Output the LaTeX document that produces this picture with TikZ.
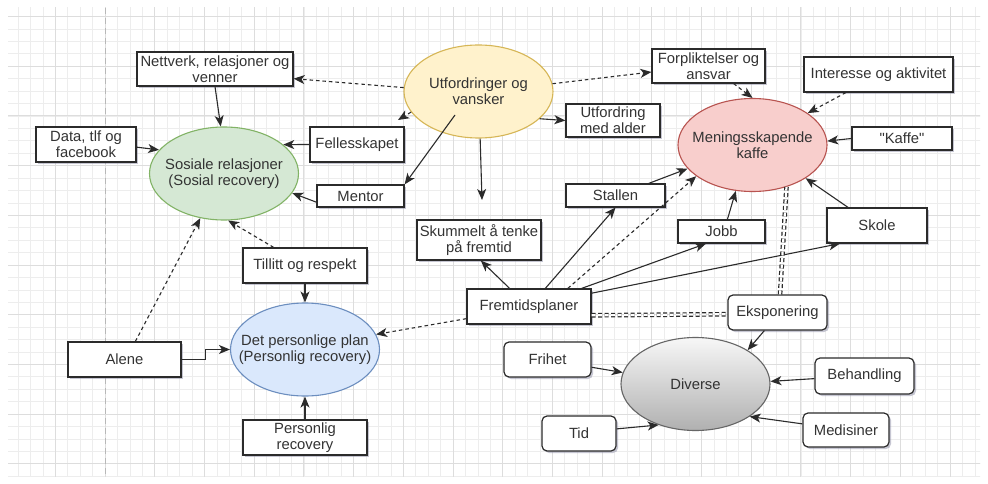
\documentclass[tikz,border=0pt]{standalone}
\usepackage{fontspec}
\setmainfont{Liberation Sans}[Ligatures=TeXOff]
\usetikzlibrary{arrows.meta, shapes.geometric, shadows}
\definecolor{inkgray}{HTML}{333333}
\definecolor{boxline}{HTML}{2B2B2B}
\definecolor{shadowgray}{HTML}{8E8EA6}
\definecolor{gridlt}{HTML}{EDEDED}
\definecolor{gridmj}{HTML}{DDDDDD}
\definecolor{pagedash}{HTML}{B8B8B8}
\definecolor{socfill}{HTML}{D5E8D4}
\definecolor{socline}{HTML}{82B366}
\definecolor{utffill}{HTML}{FFF2CC}
\definecolor{utfline}{HTML}{D6B656}
\definecolor{meanfill}{HTML}{F8CECC}
\definecolor{meanline}{HTML}{B85450}
\definecolor{persfill}{HTML}{DAE8FC}
\definecolor{persline}{HTML}{6C8EBF}
\definecolor{divtop}{HTML}{F7F7F7}
\definecolor{divbot}{HTML}{B0B0B0}
\definecolor{divline}{HTML}{666666}

\begin{document}
\begin{tikzpicture}[x=1pt, y=-1pt,
  >={Stealth[length=11pt, width=9pt, inset=3pt]},
  every node/.style={font=\fontsize{14.8}{16.3}\selectfont, text=inkgray, align=center},
  box/.style={draw=boxline, fill=white, line width=1.2pt, inner sep=0pt,
    drop shadow={shadow xshift=2pt, shadow yshift=-2pt, fill=shadowgray, opacity=0.5}},
  rbox/.style={box, rounded corners=5pt},
  oval/.style={ellipse, line width=1.1pt, inner xsep=-25pt, inner ysep=0pt,
    minimum width=149pt, minimum height=93pt},
  conn/.style={->, draw=boxline, line width=1.1pt},
  dconn/.style={conn, dash pattern=on 3.5pt off 3pt},
  pair/.style={draw=boxline, line width=1.2pt, double=white, double distance=2.2pt,
    dash pattern=on 4pt off 2.5pt}]

% Background and grid
\fill[white] (0,0) rectangle (988,484);
\begin{scope}
  \clip (8,8) rectangle (980,476);
  \draw[gridlt, line width=0.5pt, shift={(5.6pt,-16.4pt)}, step=12.425pt] (-20pt,-520pt) grid (1000pt,20pt);
  \draw[gridmj, line width=0.7pt, shift={(5.6pt,-16.4pt)}, step=49.7pt] (-20pt,-520pt) grid (1000pt,20pt);
\end{scope}
\draw[pagedash, line width=0.8pt, dash pattern=on 6pt off 4pt] (105,8) -- (105,476);

% =========== Sosiale relasjoner ===========
\node[oval, fill=socfill, draw=socline] (soc) at (224,173.5) {Sosiale relasjoner\\(Sosial recovery)};
\node[box, minimum width=156pt, minimum height=34pt] (net) at (215,69) {Nettverk, relasjoner og\\venner};
\node[box, minimum width=100pt, minimum height=35pt] (data) at (86,144.5) {Data, tlf og\\facebook};
\node[box, minimum width=94pt, minimum height=35pt] (fell) at (357,144.5) {Fellesskapet};
\node[box, minimum width=87pt, minimum height=22pt] (mentor) at (360.5,196) {Mentor};
\node[box, minimum width=124pt, minimum height=35pt] (till) at (305,265.5) {Tillitt og respekt};
\node[box, minimum width=113pt, minimum height=35pt] (alene) at (124.5,359.5) {Alene};

% =========== Det personlige plan ===========
\node[oval, fill=persfill, draw=persline] (pers) at (305,349.5) {Det personlige plan\\(Personlig recovery)};
\node[box, minimum width=124pt, minimum height=35pt] (prec) at (305,437.5) {Personlig\\recovery};

% =========== Utfordringer ===========
\node[oval, fill=utffill, draw=utfline] (utf) at (478.5,91.5) {Utfordringer og\\vansker};
\node[box, minimum width=94pt, minimum height=33pt] (alder) at (613,120.5) {Utfordring\\med alder};
\node[box, minimum width=124pt, minimum height=40pt] (skum) at (479,240) {Skummelt å tenke\\på fremtid};
\node[box, minimum width=124pt, minimum height=35pt] (frem) at (529,306.5) {Fremtidsplaner};
\coordinate (utfIn) at (455,115);
\coordinate (skumTip) at (482,200);
\coordinate (fellTip) at (398,120);

% =========== Meningsskapende kaffe ===========
\node[oval, fill=meanfill, draw=meanline] (mean) at (752.5,145) {Meningsskapende\\kaffe};
\node[box, minimum width=113pt, minimum height=34pt] (forp) at (708.5,66) {Forpliktelser og\\ansvar};
\node[box, minimum width=149pt, minimum height=35pt] (inter) at (878.5,74.5) {Interesse og aktivitet};
\node[box, minimum width=100pt, minimum height=23pt] (kaffe) at (902,138.5) {"Kaffe"};
\node[box, minimum width=99pt, minimum height=23pt] (stall) at (615.5,195.5) {Stallen};
\node[box, minimum width=87pt, minimum height=23pt] (jobb) at (721.5,231.5) {Jobb};
\node[box, minimum width=100pt, minimum height=35pt] (skole) at (877,225.5) {Skole};

% =========== Diverse ===========
\node[oval, top color=divtop, bottom color=divbot, draw=divline] (div) at (695.5,384) {Diverse};
\node[rbox, minimum width=99pt, minimum height=35pt] (eksp) at (777.5,312.5) {Eksponering};
\node[rbox, minimum width=99pt, minimum height=36pt] (beh) at (864.5,376) {Behandling};
\node[rbox, minimum width=86pt, minimum height=34pt] (med) at (846,430) {Medisiner};
\node[rbox, minimum width=87pt, minimum height=35pt] (frihet) at (547.5,359.5) {Frihet};
\node[rbox, minimum width=74pt, minimum height=35pt] (tid) at (579,433.5) {Tid};

% Connectors from Utfordringer
\draw[dconn] (utf.177) -- (net.-7);
\draw[dconn] (utf.6) -- (forp.186);
\draw[dconn] (utf.197) -- (fellTip);
\draw[conn] (utfIn) -- (mentor.north east);
\draw[conn] (utf.-88) -- (skumTip);
\draw[conn] (utf.-24) -- (alder.west);

% Into Sosiale relasjoner
\draw[conn] (net.south) -- (soc.94);
\draw[conn] (data.-3) -- (soc.160);
\draw[conn] (fell.west) -- (soc.26);
\draw[conn] (mentor.188) -- (soc.-16);
\draw[dconn] (till.150) -- (soc.-85);
\draw[dconn] (alene.59) -- (soc.242);

% Into Det personlige plan
\draw[conn] (till.south) -- (pers.north);
\draw[conn] (prec.north) -- (pers.south);
\draw[conn] (alene.east) -- ++(24,0) |- (pers.west);
\draw[dconn] (frem.191) -- (pers.12);

% From Fremtidsplaner
\draw[conn] (frem.137) -- (skum.-85);
\draw[conn] (frem.48) -- (stall.south);
\draw[dconn] (frem.25) -- (mean.209);
\draw[conn] (frem.19) -- (jobb.218);
\draw[conn] (frem.12) -- (skole.206);
\draw[pair] (frem.-8) -- (eksp.182);

% Into Meningsskapende kaffe
\draw[conn] (stall.20) -- (mean.200);
\draw[dconn] (forp.-35) -- (mean.north);
\draw[dconn] (inter.209) -- (mean.30);
\draw[conn] (kaffe.west) -- (mean.3);
\draw[conn] (jobb.64) -- (mean.250);
\draw[conn] (skole.148) -- (mean.-32);
\draw[pair] (eksp.82) -- (mean.-51);

% Into Diverse
\draw[conn] (eksp.234) -- (div.33);
\draw[conn] (beh.183) -- (div.2);
\draw[conn] (med.172) -- (div.-31);
\draw[conn] (frihet.-10) -- (div.171);
\draw[conn] (tid.7) -- (div.228);

\end{tikzpicture}
\end{document}
